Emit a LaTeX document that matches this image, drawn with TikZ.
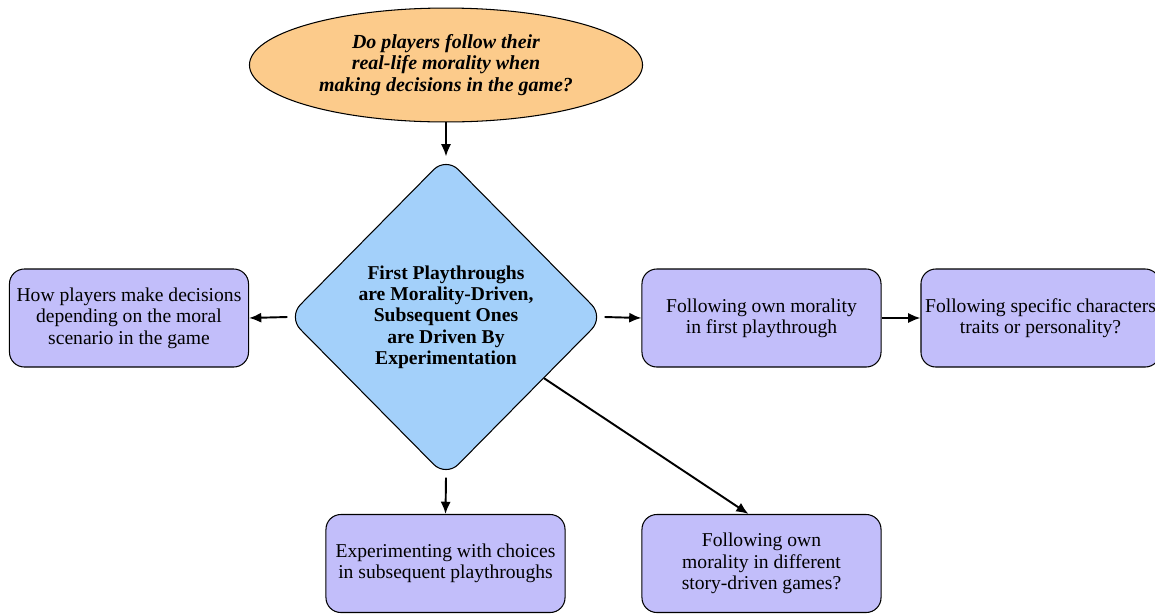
\documentclass[tikz,border=0pt]{standalone}
\usepackage{fontspec}
\setmainfont{Liberation Serif}
\usetikzlibrary{shapes.geometric,arrows.meta}
\definecolor{eorange}{HTML}{FCCB8B}
\definecolor{dblue}{HTML}{A3D0FA}
\definecolor{blav}{HTML}{C2BEFA}
\begin{document}
\begin{tikzpicture}[x=0.5714pt,y=-0.5714pt,
  font=\fontsize{11.2}{12.2}\selectfont,
  boxnode/.style={draw=black, line width=0.6pt, fill=blav, rounded corners=8.5pt,
    minimum width=136.6pt, minimum height=56pt, align=center, inner sep=2pt},
  arr/.style={-{Latex[length=7pt,width=5.8pt]}, line width=1.1pt}]
\useasboundingbox (0,0) rectangle (1155,613);
\node[ellipse, draw=black, line width=0.6pt, fill=eorange, minimum width=224.6pt,
  minimum height=65.1pt, inner sep=0pt, align=center,
  font=\fontsize{11.4}{12.2}\selectfont\bfseries\itshape] (E) at (446,65)
  {Do players follow their\\real-life morality when\\making decisions in the game?};
\node[diamond, draw=black, line width=0.6pt, fill=dblue, rounded corners=10pt,
  minimum width=180.6pt, minimum height=182.9pt, inner sep=0pt, align=center,
  font=\fontsize{11.2}{12.2}\selectfont\bfseries] (D) at (446,317)
  {First Playthroughs\\are Morality-Driven,\\Subsequent Ones\\are Driven By\\Experimentation};
\node[boxnode] (L) at (129,318) {How players make decisions\\depending on the moral\\scenario in the game};
\node[boxnode] (R1) at (761.5,318) {Following own morality\\in first playthrough};
\node[boxnode] (R2) at (1040.5,318) {Following specific characters\\traits or personality?};
\node[boxnode] (B1) at (445.5,563.5) {Experimenting with choices\\in subsequent playthroughs};
\node[boxnode] (B2) at (761.5,563.5) {Following own\\morality in different\\story-driven games?};
\draw[arr] (E.south) -- (D.north);
\draw[arr] (D.west) -- (L.east);
\draw[arr] (D.east) -- (R1.west);
\draw[arr] (R1.east) -- (R2.west);
\draw[arr] (D.south) -- (B1.north);
\draw[arr] (D.-32.6) -- ([xshift=-13*0.5714pt]B2.north);
\end{tikzpicture}
\end{document}
